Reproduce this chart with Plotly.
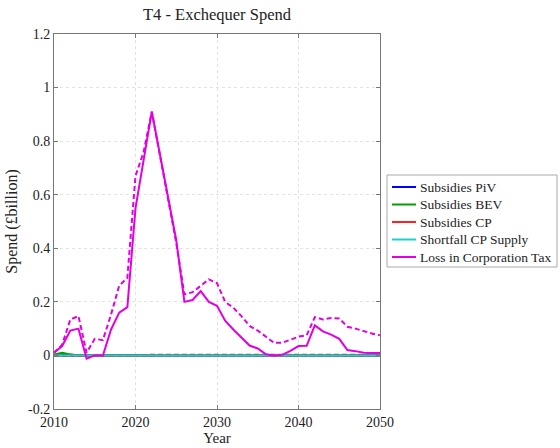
import plotly.graph_objects as go

years = list(range(2010, 2051))

# Loss in Corporation Tax (£billion), two scenarios
corp_tax = [0.01, 0.035, 0.093, 0.10, -0.012, 0.0, 0.0, 0.097, 0.16, 0.18,
            0.55, 0.73, 0.91, 0.75, 0.59, 0.43, 0.20, 0.207, 0.24, 0.20,
            0.185, 0.13, 0.097, 0.066, 0.037, 0.026, 0.004, 0.0, 0.002, 0.017,
            0.035, 0.036, 0.112, 0.09, 0.078, 0.062, 0.02, 0.016, 0.01, 0.009,
            0.009]
corp_tax_alt = [0.01, 0.04, 0.134, 0.147, 0.01, 0.062, 0.057, 0.153, 0.26, 0.29,
                0.67, 0.76, 0.91, 0.75, 0.59, 0.42, 0.228, 0.236, 0.26, 0.284,
                0.27, 0.20, 0.178, 0.147, 0.11, 0.093, 0.07, 0.047, 0.047, 0.06,
                0.07, 0.075, 0.143, 0.134, 0.14, 0.138, 0.107, 0.10, 0.09, 0.082,
                0.075]

# Subsidy and shortfall series stay close to zero
subs_piv = [0.0] * 41
subs_bev = [0.003, 0.01, 0.004] + [0.0] * 38
subs_cp = [0.0] * 41
subs_cp_alt = [0.0] * 12 + [0.003] * 29
shortfall = [0.0] * 41

series_names = ["Subsidies PiV", "Subsidies BEV", "Subsidies CP",
                "Shortfall CP Supply", "Loss in Corporation Tax"]
series_solid = [subs_piv, subs_bev, subs_cp, shortfall, corp_tax]
series_dashed = [subs_piv, [0.0] * 41, subs_cp_alt, shortfall, corp_tax_alt]
series_colors = ["#0000ff", "#00a000", "#ff2020", "#20d0d0", "#e000e0"]

y_ticks = [-0.2, 0, 0.2, 0.4, 0.6, 0.8, 1.0, 1.2]
y_tick_text = ["-0.2", "0", "0.2", "0.4", "0.6", "0.8", "1", "1.2"]
x_ticks = [2010, 2020, 2030, 2040, 2050]

fig = go.Figure()
for name, dashed, color in zip(series_names, series_dashed, series_colors):
    fig.add_trace(go.Scatter(x=years, y=dashed, mode="lines", showlegend=False,
                             name=name + " (alt)",
                             line=dict(color=color, width=2, dash="5px,3px")))
for name, solid, color in zip(series_names, series_solid, series_colors):
    fig.add_trace(go.Scatter(x=years, y=solid, mode="lines", name=name,
                             showlegend=False, line=dict(color=color, width=2)))

serif = "Liberation Serif, Times New Roman, serif"
axis_common = dict(showline=True, linecolor="#777", linewidth=1, mirror="ticks",
                   ticks="inside", ticklen=4, tickcolor="#777",
                   showgrid=True, gridcolor="#e2e2e2", griddash="dot", gridwidth=1,
                   zeroline=False, tickfont=dict(family=serif, size=14, color="#222"))

# Plot area in pixels: x 54..380, y 34..409
L, R, T, B = 54, 380, 34, 409
def px_x(p):
    return (p - L) / (R - L)
def px_y(p):
    return (B - p) / (B - T)

# Boxed key to the right of the axes
shapes = [dict(type="rect", xref="paper", yref="paper",
               x0=px_x(387), x1=px_x(557), y0=px_y(267), y1=px_y(175),
               line=dict(color="#aaa", width=1), fillcolor="white", layer="above")]
annotations = []
row_y = [187, 204.5, 222, 239.5, 257]
for name, color, ry in zip(series_names, series_colors, row_y):
    shapes.append(dict(type="line", xref="paper", yref="paper",
                       x0=px_x(392), x1=px_x(416), y0=px_y(ry), y1=px_y(ry),
                       line=dict(color=color, width=2), layer="above"))
    annotations.append(dict(text=name, xref="paper", yref="paper",
                            x=px_x(418), y=px_y(ry), xanchor="left", yanchor="middle",
                            showarrow=False,
                            font=dict(family=serif, size=13.5, color="#222")))

fig.update_layout(
    width=560, height=448,
    margin=dict(l=L, r=560 - R, t=T, b=448 - B, autoexpand=False),
    paper_bgcolor="white", plot_bgcolor="white",
    showlegend=False,
    title=dict(text="T4 - Exchequer Spend", x=(L + R) / 2 / 560, xanchor="center",
               y=1 - 14 / 448, yanchor="middle",
               font=dict(family=serif, size=16.5, color="#222")),
    xaxis=dict(range=[2010, 2050], tickvals=x_ticks,
               title=dict(text="Year", standoff=0, font=dict(family=serif, size=15, color="#222")),
               **axis_common),
    yaxis=dict(range=[-0.2, 1.2], tickvals=y_ticks, ticktext=y_tick_text,
               title=dict(text="Spend (£billion)", standoff=6,
                          font=dict(family=serif, size=16, color="#222")),
               **axis_common),
    shapes=shapes,
    annotations=annotations,
)

fig.write_html("out.html")
